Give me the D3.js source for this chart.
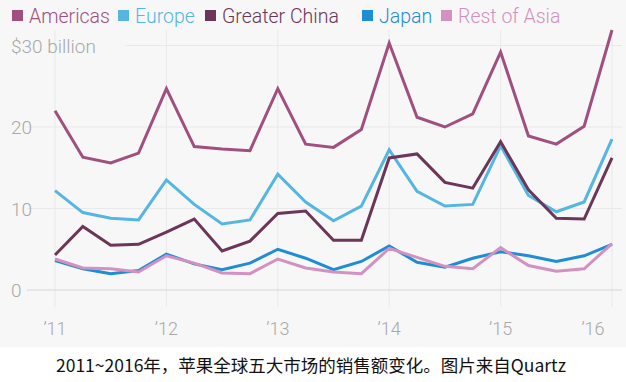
<!DOCTYPE html>
<html>
<head>
<meta charset="utf-8">
<script src="https://cdn.jsdelivr.net/npm/d3@7"></script>
<style>
  body { margin: 0; background: #fff; }
  svg text { font-family: Roboto, "Open Sans", sans-serif; }
</style>
</head>
<body>
<script>
// quarterly sales, $ billion, Q1 2011 .. Q1 2016
const quarters = d3.range(21);
const yearLabels = ["\u201911", "\u201912", "\u201913", "\u201914", "\u201915", "\u201916"];
const yearTicks = [0, 4, 8, 12, 16, 20];
const yTicks = [0, 10, 20, 30];

const americas  = [22.0, 16.3, 15.6, 16.8, 24.7, 17.6, 17.3, 17.1, 24.7, 17.9, 17.5, 19.7, 30.3, 21.2, 20.0, 21.6, 29.2, 18.9, 17.9, 20.1, 31.9];
const europe    = [12.2, 9.5, 8.8, 8.6, 13.5, 10.5, 8.1, 8.6, 14.2, 10.8, 8.5, 10.3, 17.2, 12.1, 10.3, 10.5, 17.7, 11.6, 9.6, 10.8, 18.5];
const china     = [4.3, 7.8, 5.5, 5.6, 7.1, 8.7, 4.8, 6.0, 9.4, 9.7, 6.1, 6.1, 16.2, 16.7, 13.2, 12.5, 18.2, 12.3, 8.8, 8.7, 16.2];
const japan     = [3.6, 2.6, 2.0, 2.4, 4.4, 3.2, 2.5, 3.3, 5.0, 3.9, 2.5, 3.5, 5.4, 3.4, 2.8, 3.9, 4.7, 4.2, 3.5, 4.2, 5.6];
const restAsia  = [3.8, 2.7, 2.6, 2.2, 4.2, 3.3, 2.1, 2.0, 3.8, 2.7, 2.2, 2.0, 5.1, 4.0, 2.9, 2.6, 5.2, 3.0, 2.3, 2.6, 5.7];

const seriesNames = ["Americas", "Europe", "Greater China", "Japan", "Rest of Asia"];
const seriesValues = [americas, europe, china, japan, restAsia];
const colors = ["#a0507f", "#55b6e2", "#6b3658", "#1f8dd6", "#d491bf"];

const width = 626, height = 382;
const svg = d3.select("body").append("svg")
    .attr("width", width)
    .attr("height", height);

// chart background
svg.append("rect")
    .attr("x", 0).attr("y", 0)
    .attr("width", width).attr("height", 347)
    .attr("fill", "#f7f7f7");

const x = d3.scaleLinear().domain([0, 20]).range([55, 612]);
const y = d3.scaleLinear().domain([0, 30]).range([290, 45.5]);

// vertical grid
svg.append("g").selectAll("line")
    .data(yearTicks)
    .enter().append("line")
    .attr("x1", d => x(d)).attr("x2", d => x(d))
    .attr("y1", 30).attr("y2", 307)
    .attr("stroke", "#e9e9e9")
    .attr("stroke-width", 1);

// horizontal grid
svg.append("g").selectAll("line")
    .data(yTicks)
    .enter().append("line")
    .attr("x1", d => d == 30 ? 125 : 27)
    .attr("x2", 622)
    .attr("y1", d => y(d)).attr("y2", d => y(d))
    .attr("stroke", d => d == 0 ? "#d6d6d6" : "#e9e9e9")
    .attr("stroke-width", 1);

// y labels
svg.append("g").selectAll("text")
    .data(yTicks)
    .enter().append("text")
    .attr("x", 11)
    .attr("y", d => y(d) + 7)
    .attr("font-size", 19)
    .attr("font-weight", 300)
    .attr("fill", "#a8a8a8")
    .text(d => d == 30 ? "$30 billion" : d);

// x labels
svg.append("g").selectAll("text")
    .data(yearTicks)
    .enter().append("text")
    .attr("x", (d, i) => x(d) - (i == yearTicks.length - 1 ? 19 : 0))
    .attr("y", 335)
    .attr("text-anchor", "middle")
    .attr("font-size", 18)
    .attr("font-weight", 300)
    .attr("fill", "#a8a8a8")
    .text((d, i) => yearLabels[i]);

// lines
const line = d3.line()
    .x((d, i) => x(quarters[i]))
    .y(d => y(d));

svg.append("g").selectAll("path")
    .data(seriesValues)
    .enter().append("path")
    .attr("d", d => line(d))
    .attr("fill", "none")
    .attr("stroke", (d, i) => colors[i])
    .attr("stroke-width", 3)
    .attr("stroke-linejoin", "miter");

// legend
const legendX = [12, 118, 205, 362, 441];
const legend = svg.append("g").selectAll("g")
    .data(seriesNames)
    .enter().append("g")
    .attr("transform", (d, i) => `translate(${legendX[i]},0)`);

legend.append("rect")
    .attr("x", 0).attr("y", 10)
    .attr("width", 11).attr("height", 11)
    .attr("fill", (d, i) => colors[i]);

legend.append("text")
    .attr("x", 17)
    .attr("y", 23)
    .attr("font-size", 19.5)
    .attr("font-weight", 300)
    .attr("fill", (d, i) => colors[i])
    .text(d => d);

// caption
svg.append("text")
    .attr("x", 311)
    .attr("y", 372)
    .attr("text-anchor", "middle")
    .attr("font-size", 17.5)
    .attr("fill", "#111")
    .style("font-family", "'Noto Sans CJK SC', sans-serif")
    .text("2011~2016年，苹果全球五大市场的销售额变化。图片来自Quartz");
</script>
</body>
</html>
